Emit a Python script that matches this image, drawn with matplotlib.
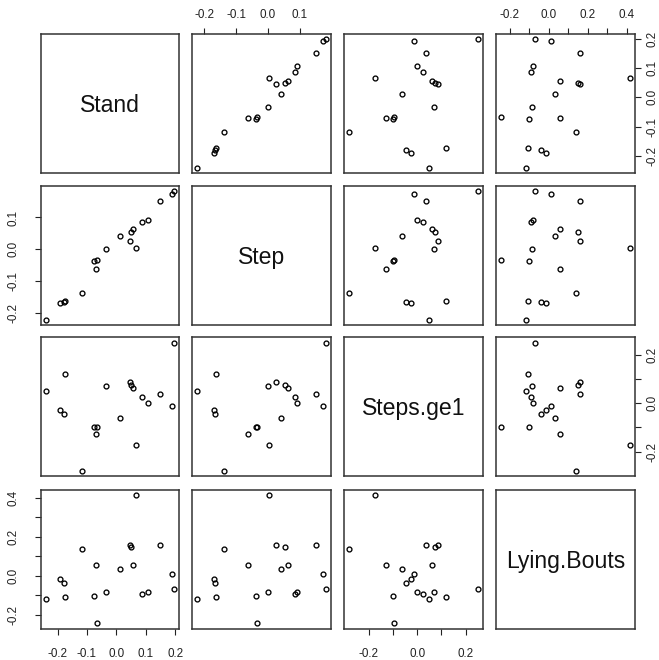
import matplotlib
matplotlib.use("Agg")
import matplotlib.pyplot as plt
import numpy as np

plt.rcParams['font.family'] = ['Liberation Sans', 'DejaVu Sans']

names = ["Stand", "Step", "Steps.ge1", "Lying.Bouts"]

stand = [-0.240, -0.191, -0.179, -0.174, -0.118, -0.075, -0.070, -0.066, -0.034, 0.012,
         0.045, 0.050, 0.056, 0.067, 0.086, 0.107, 0.150, 0.191, 0.197]
step = [-0.222, -0.171, -0.166, -0.165, -0.139, -0.037, -0.062, -0.033, -0.001, 0.043,
        0.025, 0.053, 0.063, 0.004, 0.087, 0.091, 0.153, 0.174, 0.183]
ge1 = [0.050, -0.027, -0.044, 0.121, -0.280, -0.100, -0.128, -0.097, 0.069, -0.063,
       0.088, 0.075, 0.061, -0.174, 0.024, -0.001, 0.036, -0.012, 0.249]
lying = [-0.116, -0.014, -0.038, -0.109, 0.140, -0.102, 0.055, -0.243, -0.084, 0.033,
         0.157, 0.148, 0.055, 0.415, -0.090, -0.082, 0.157, 0.009, -0.069]

data = [stand, step, ge1, lying]
# tick positions and which of them carry a label
ticks = [[-0.2, -0.1, 0.0, 0.1, 0.2],
         [-0.2, -0.1, 0.0, 0.1],
         [-0.2, -0.1, 0.0, 0.1, 0.2],
         [-0.2, -0.1, 0.0, 0.1, 0.2, 0.3, 0.4]]
labelled = [[-0.2, -0.1, 0.0, 0.1, 0.2],
            [-0.2, -0.1, 0.0, 0.1],
            [-0.2, 0.0, 0.2],
            [-0.2, 0.0, 0.2, 0.4]]

W, H = 659, 660
fig = plt.figure(figsize=(W / 100, H / 100), dpi=100)

col_x = [40.7, 192.3, 344.0, 496.3]
row_y = [34.3, 186.0, 337.5, 489.8]
pw, ph = 138.7, 138.7

def limits(v):
    lo, hi = min(v), max(v)
    r = hi - lo
    return lo - 0.04 * r, hi + 0.04 * r

def fmt(t):
    return "%.1f" % t if abs(t) > 1e-9 else "0.0"

def set_ticks(axis, k):
    axis.set_ticks(ticks[k])
    axis.set_ticklabels([fmt(t) if any(abs(t - l) < 1e-9 for l in labelled[k]) else ""
                         for t in ticks[k]])

tick_kw = dict(direction='out', length=4, width=0.8, labelsize=8.4, colors='#222222')

n = 4
for i in range(n):
    for j in range(n):
        ax = fig.add_axes([col_x[j] / W, 1 - (row_y[i] + ph) / H, pw / W, ph / H])
        for s in ax.spines.values():
            s.set_linewidth(1.1)
            s.set_color('#333333')
        ax.set_xlim(*limits(data[j]))
        ax.set_ylim(*limits(data[i]))
        if i == j:
            ax.text(0.5, 0.485, names[i], transform=ax.transAxes, ha='center', va='center',
                    fontsize=16.6, color='#111111')
        else:
            ax.plot(data[j], data[i], 'o', ms=3.5, mfc='none', mec='black', mew=0.95)

        ax.tick_params(bottom=False, top=False, left=False, right=False,
                       labelbottom=False, labeltop=False, labelleft=False, labelright=False)
        # R-style alternating outer axes
        if i == 0 and j % 2 == 1:
            set_ticks(ax.xaxis, j)
            ax.tick_params(axis='x', top=True, labeltop=True, pad=5.5, **tick_kw)
        if i == n - 1 and j % 2 == 0:
            set_ticks(ax.xaxis, j)
            ax.tick_params(axis='x', bottom=True, labelbottom=True, pad=10, **tick_kw)
        if j == 0 and i % 2 == 1:
            set_ticks(ax.yaxis, i)
            ax.tick_params(axis='y', left=True, labelleft=True, pad=11, **tick_kw)
            for lab in ax.get_yticklabels():
                lab.set_rotation(90)
                lab.set_va('center')
        if j == n - 1 and i % 2 == 0:
            set_ticks(ax.yaxis, i)
            ax.tick_params(axis='y', right=True, labelright=True, pad=4, **tick_kw)
            for lab in ax.get_yticklabels():
                lab.set_rotation(90)
                lab.set_va('center')

fig.savefig("out.png", dpi=100)
